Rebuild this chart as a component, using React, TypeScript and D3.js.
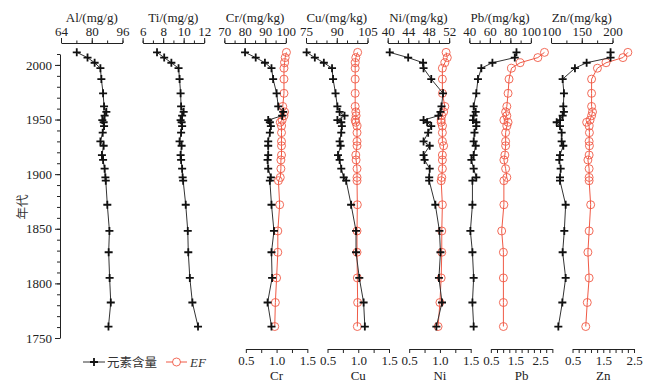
import React, { useRef, useEffect } from 'react';
import * as d3 from 'd3';

// sample years (shared by all panels)
const years = [2011.5, 2006.7, 2002, 1997, 1987, 1974, 1962, 1957, 1953.5, 1949.5, 1947.5, 1944, 1938, 1930, 1926, 1917.5, 1913, 1905, 1897, 1894, 1872, 1848, 1828.5, 1805, 1782.5, 1760.5];

const al = [72.2, 77.8, 81.5, 84.5, 85, 85.9, 86.4, 87.6, 86.7, 85.5, 86.2, 86.4, 85.7, 84.5, 86.2, 85.3, 85.9, 86.7, 87.1, 87.3, 88.1, 89.2, 88.8, 89.3, 89.9, 88.7];
const ti = [7.4, 8.1, 8.8, 9.5, 9.6, 9.7, 9.75, 10.0, 9.85, 9.7, 9.8, 9.85, 9.75, 9.6, 9.8, 9.7, 9.75, 9.85, 9.9, 9.95, 10.2, 10.4, 10.45, 10.6, 10.85, 11.4];
const cr = [80.1, 85.3, 89.8, 93.0, 93.8, 95.5, 96.3, 98.7, 98.2, 91.4, 92.2, 92.7, 92.2, 91.4, 91.4, 91.4, 91.1, 91.4, 92.7, 92.2, 93, 94.2, 93, 93.3, 91.1, 93];
const cu = [75.3, 79.3, 83.7, 87.7, 88.2, 89.4, 90.3, 91.4, 93.8, 90.3, 92.2, 92.5, 92.2, 91.4, 91.9, 90.6, 91.4, 92.2, 93.4, 94.6, 97, 99.4, 99.4, 101, 103.1, 103.7];
const ni = [40.4, 44, 46.9, 47, 48.5, 50.8, 50.5, 50.3, 49.9, 47, 47.7, 48.5, 47.9, 47, 48.2, 47, 47.2, 48.2, 48.1, 48.1, 49.3, 50.1, 50.3, 50, 50.6, 49.5];
const pb = [86, 84.3, 62.5, 51.7, 48.4, 46.8, 44.2, 46.2, 44.2, 43.5, 46.8, 46.8, 45, 44.2, 46.2, 44.2, 42, 44.2, 46.8, 43, 43, 41, 43, 44.2, 43, 44.2];
const zn = [196.8, 196.8, 157.9, 138.9, 118.9, 121, 120, 121, 118.9, 114.6, 109.2, 114.6, 117.3, 117.3, 120, 114.6, 113.5, 115.7, 114.6, 114.6, 123.8, 121.6, 118.9, 123.8, 118.4, 111.9];

// enrichment factors
const crEF = [1.16, 1.14, 1.13, 1.12, 1.12, 1.12, 1.10, 1.13, 1.12, 1.09, 1.06, 1.08, 1.08, 1.08, 1.08, 1.08, 1.07, 1.07, 1.06, 1.03, 1.05, 1.02, 1.02, 1.0, 0.98, 0.97];
const cuEF = [0.99, 0.96, 0.95, 0.95, 0.95, 0.95, 0.95, 0.96, 0.965, 0.95, 0.96, 0.98, 0.98, 0.98, 0.98, 0.96, 0.965, 0.98, 0.98, 0.98, 0.985, 0.98, 0.98, 0.985, 0.99, 0.985];
const niEF = [1.10, 1.12, 1.08, 1.04, 1.04, 1.04, 1.08, 1.06, 1.03, 1.02, 1.02, 1.04, 1.04, 1.04, 1.06, 1.04, 1.04, 1.04, 1.03, 1.02, 1.04, 1.03, 1.03, 1.02, 1.0, 0.97];
const pbEF = [2.68, 2.41, 1.69, 1.34, 1.24, 1.2, 1.15, 1.1, 1.15, 1.03, 1.2, 1.15, 1.1, 1.1, 1.1, 1.07, 1.03, 1.1, 1.15, 1.03, 1.03, 0.94, 1.01, 1.01, 1.01, 1.01];
const znEF = [2.30, 2.14, 1.59, 1.31, 1.12, 1.12, 1.12, 1.15, 1.12, 1.07, 0.96, 1.04, 1.05, 1.04, 1.05, 1.04, 1.0, 1.04, 1.04, 1.04, 1.09, 1.04, 1.0, 1.04, 0.98, 0.93];

const titles = ['Al/(mg/g)', 'Ti/(mg/g)', 'Cr/(mg/kg)', 'Cu/(mg/kg)', 'Ni/(mg/kg)', 'Pb/(mg/kg)', 'Zn/(mg/kg)'];
const concDomains = [[64, 96], [6, 12], [70, 100], [75, 105], [40, 52], [40, 100], [100, 200]];
const concMajor = [[64, 80, 96], [6, 8, 10, 12], [70, 80, 90, 100], [75, 90, 105], [40, 44, 48, 52], [40, 60, 80, 100], [100, 150, 200]];
const concMinorStep = [8, 1, 5, 5, 2, 10, 25];
const concValues = [al, ti, cr, cu, ni, pb, zn];

const efNames = ['Cr', 'Cu', 'Ni', 'Pb', 'Zn'];
const efValues = [crEF, cuEF, niEF, pbEF, znEF];
const efDomains = [[0.5, 1.5], [0.5, 1.5], [0.5, 1.5], [0.5, 3.0], [0.5, 2.5]];
const efMajor = [[0.5, 1.0, 1.5], [0.5, 1.0, 1.5], [0.5, 1.0, 1.5], [0.5, 1.5, 2.5], [0.5, 1.5, 2.5]];
const efStep = [0.25, 0.25, 0.25, 0.25, 0.2];

const yearMajor = [1750, 1800, 1850, 1900, 1950, 2000];

const RED = '#f05a46';
const SERIF = '"Liberation Serif", "Times New Roman", serif';
const CJK = '"Noto Sans CJK SC", sans-serif';

const range = (a: number, b: number, s: number) => {
    const out: number[] = [];
    for (let i = 0; a + i * s <= b + 1e-9; i++) out.push(+(a + i * s).toFixed(4));
    return out;
};

const App: React.FC = () => {
    const svgRef = useRef<SVGSVGElement | null>(null);

    useEffect(() => {
        if (!svgRef.current) return;
        const svg = d3.select(svgRef.current);
        svg.selectAll('*').remove();

        const width = 652;
        const height = 389;
        const left = 61;
        const step = 81.67;
        const panelW = 61.5;
        const efShift = 21.5;
        const topAxisY = 43;
        const bottomAxisY = 349;

        const y = d3.scaleLinear().domain([1750, 2010]).range([338, 54]);

        const styleAxis = (g: d3.Selection<SVGGElement, unknown, null, undefined>) => {
            g.attr('font-family', SERIF).attr('font-size', 13);
            g.selectAll('path, line').attr('stroke', '#222');
            g.selectAll('text').attr('fill', '#222');
        };

        // left year axis
        const yMinor = svg.append('g').attr('transform', `translate(60,0)`)
            .call(d3.axisLeft(y).tickValues(range(1750, 2010, 10)).tickSize(3).tickSizeOuter(0).tickFormat(() => ''));
        styleAxis(yMinor);
        const yAx = svg.append('g').attr('transform', `translate(60,0)`)
            .call(d3.axisLeft(y).tickValues(yearMajor).tickSize(5).tickSizeOuter(0).tickPadding(3).tickFormat(d3.format('d')));
        styleAxis(yAx);
        yAx.select('.domain').remove();

        svg.append('text')
            .attr('transform', `translate(21,207) rotate(-90)`)
            .attr('text-anchor', 'middle')
            .attr('dominant-baseline', 'central')
            .attr('font-family', CJK)
            .attr('font-size', 12.5)
            .attr('fill', '#333')
            .text('年代');

        const crossPath = 'M-4,0H4M0,-4V4';

        concValues.forEach((vals, i) => {
            const x0 = left + i * step;
            const x = d3.scaleLinear().domain(concDomains[i]).range([x0, x0 + panelW]);

            const minor = svg.append('g').attr('transform', `translate(0,${topAxisY})`)
                .call(d3.axisTop(x).tickValues(range(concDomains[i][0], concDomains[i][1], concMinorStep[i])).tickSize(2.5).tickSizeOuter(0).tickFormat(() => ''));
            styleAxis(minor);
            const major = svg.append('g').attr('transform', `translate(0,${topAxisY})`)
                .call(d3.axisTop(x).tickValues(concMajor[i]).tickSize(5).tickSizeOuter(0).tickPadding(2).tickFormat(d3.format('d')));
            styleAxis(major);
            major.select('.domain').remove();

            svg.append('text')
                .attr('x', x0 + panelW / 2)
                .attr('y', 22)
                .attr('text-anchor', 'middle')
                .attr('font-family', SERIF)
                .attr('font-size', 13)
                .attr('fill', '#222')
                .text(titles[i]);

            // EF series (drawn first, under the concentration line)
            if (i >= 2) {
                const k = i - 2;
                const xe = d3.scaleLinear().domain(efDomains[k]).range([x0 + efShift, x0 + efShift + panelW]);
                const efAx = svg.append('g').attr('transform', `translate(0,${bottomAxisY})`)
                    .call(d3.axisBottom(xe).tickValues(range(efDomains[k][0], efDomains[k][1], efStep[k])).tickSize(4).tickSizeOuter(0)
                        .tickFormat(d => (efMajor[k].some(m => Math.abs(m - +d) < 1e-6) ? d3.format('.1f')(+d) : '')));
                styleAxis(efAx);

                svg.append('text')
                    .attr('x', x0 + efShift + panelW / 2)
                    .attr('y', 380)
                    .attr('text-anchor', 'middle')
                    .attr('font-family', SERIF)
                    .attr('font-size', 13)
                    .attr('fill', '#222')
                    .text(efNames[k]);

                const ef = efValues[k];
                const efLine = d3.line<number>().x(d => xe(d)).y((_, j) => y(years[j]));
                svg.append('path').datum(ef)
                    .attr('d', efLine)
                    .attr('fill', 'none')
                    .attr('stroke', RED)
                    .attr('stroke-width', 1);
                svg.append('g').selectAll('circle').data(ef).join('circle')
                    .attr('cx', d => xe(d))
                    .attr('cy', (_, j) => y(years[j]))
                    .attr('r', 4)
                    .attr('fill', 'none')
                    .attr('stroke', RED)
                    .attr('stroke-width', 0.9);
            }

            const line = d3.line<number>().x(d => x(d)).y((_, j) => y(years[j]));
            svg.append('path').datum(vals)
                .attr('d', line)
                .attr('fill', 'none')
                .attr('stroke', '#333')
                .attr('stroke-width', 1);
            svg.append('g').selectAll('path').data(vals).join('path')
                .attr('d', crossPath)
                .attr('transform', (d, j) => `translate(${x(d)},${y(years[j])})`)
                .attr('stroke', '#111')
                .attr('stroke-width', 1.8);
        });

        // legend
        const lg = svg.append('g');
        lg.append('line').attr('x1', 83).attr('x2', 105).attr('y1', 362).attr('y2', 362).attr('stroke', '#333');
        lg.append('path').attr('d', crossPath).attr('transform', 'translate(94,362)').attr('stroke', '#111').attr('stroke-width', 1.8);
        lg.append('text').attr('x', 107).attr('y', 367).attr('font-family', CJK).attr('font-size', 12.5).attr('fill', '#333').text('元素含量');
        lg.append('line').attr('x1', 166).attr('x2', 187).attr('y1', 362).attr('y2', 362).attr('stroke', RED);
        lg.append('circle').attr('cx', 176.5).attr('cy', 362).attr('r', 4).attr('fill', 'white').attr('stroke', RED).attr('stroke-width', 0.9);
        lg.append('text').attr('x', 190).attr('y', 367).attr('font-family', SERIF).attr('font-style', 'italic').attr('font-size', 13).attr('fill', '#333').text('EF');

        svg.attr('width', width).attr('height', height);
    }, []);

    return <svg ref={svgRef} width={652} height={389} style={{ position: 'absolute', left: 0, top: 0, background: '#fff' }} />;
};

export default App;
